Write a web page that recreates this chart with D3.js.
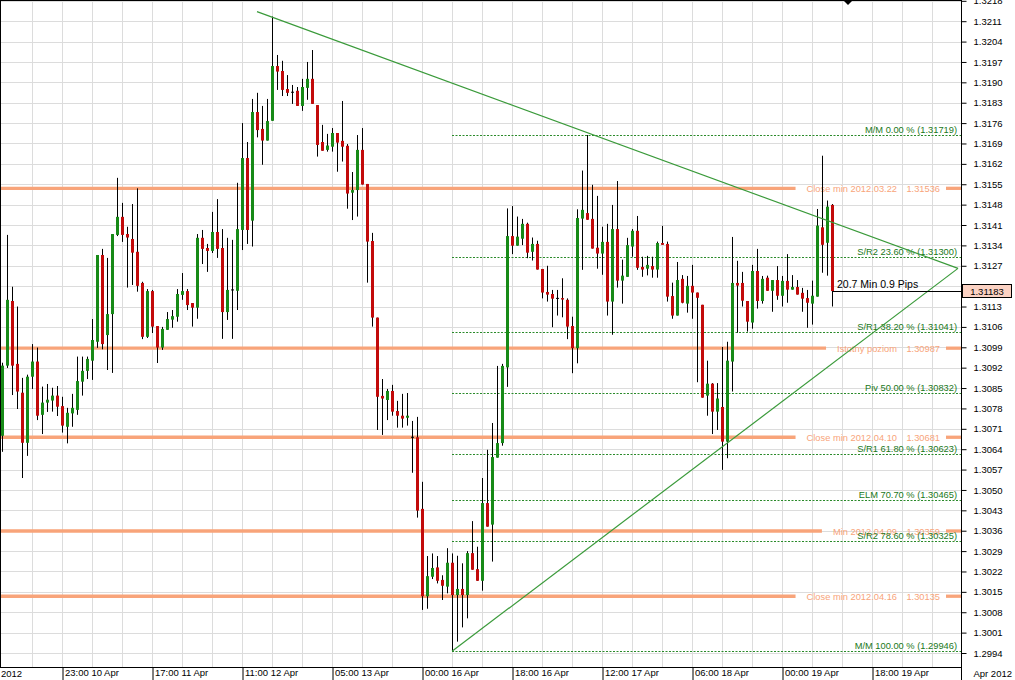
<!DOCTYPE html>
<html><head><meta charset="utf-8">
<script src="https://cdn.jsdelivr.net/npm/d3@7"></script>
<style>
body{margin:0;background:#fff;}
svg{display:block;font-family:"Liberation Sans",Arial,sans-serif;}
</style></head><body>
<svg id="c" width="1015" height="680"></svg>
<script>
// Hourly EUR/USD candles, 10 Apr 2012 11:00 onwards
const opens = [1.30686,1.30927,1.31149,1.30933,1.30834,1.30662,1.30889,1.30941,1.30758,1.30800,1.30807,1.30824,1.30788,1.30717,1.30763,1.30775,1.30872,1.30909,1.30944,1.31009,
1.31307,1.31032,1.31104,1.31376,1.31438,1.31379,1.31362,1.31318,1.31211,1.31026,1.31183,1.31063,1.30989,1.31050,1.31085,1.31095,1.31170,1.31183,1.31142,1.31126,
1.31366,1.31331,1.31321,1.31386,1.31331,1.31111,1.31187,1.31184,1.31393,1.31640,1.31425,1.31798,1.31740,1.31700,1.31768,1.31956,1.31939,1.31877,1.31866,1.31871,
1.31819,1.31881,1.31912,1.31822,1.31695,1.31668,1.31679,1.31726,1.31699,1.31682,1.31521,1.31530,1.31668,1.31551,1.31355,1.31092,1.30823,1.30809,1.30840,1.30771,
1.30755,1.30748,1.30681,1.30681,1.30435,1.30135,1.30202,1.30234,1.30191,1.30168,1.30250,1.30139,1.30160,1.30139,1.30283,1.30228,1.30188,1.30455,1.30381,1.30611,
1.30661,1.30921,1.31372,1.31339,1.31363,1.31414,1.31318,1.31345,1.31259,1.31180,1.31173,1.31158,1.31159,1.31153,1.31063,1.30987,1.31432,1.31451,1.31431,1.31332,
1.31312,1.31352,1.31147,1.31396,1.31219,1.31232,1.31336,1.31390,1.31266,1.31260,1.31269,1.31257,1.31348,1.31345,1.31166,1.31099,1.31225,1.31140,1.31201,1.31178,
1.31136,1.30824,1.30865,1.30769,1.30785,1.30666,1.30941,1.31211,1.31211,1.31149,1.31075,1.31252,1.31149,1.31229,1.31184,1.31221,1.31167,1.31218,1.31188,1.31197,
1.31177,1.31159,1.31140,1.31164,1.31402,1.31349,1.31479];
const highs = [1.30937,1.31376,1.31198,1.31130,1.30885,1.30896,1.31001,1.30989,1.30855,1.30864,1.30851,1.30857,1.30820,1.30782,1.30830,1.30958,1.30958,1.30958,1.31087,1.31307,
1.31328,1.31297,1.31379,1.31572,1.31486,1.31404,1.31482,1.31536,1.31215,1.31190,1.31187,1.31063,1.31060,1.31111,1.31118,1.31190,1.31245,1.31190,1.31142,1.31379,
1.31393,1.31345,1.31455,1.31499,1.31396,1.31366,1.31359,1.31555,1.31760,1.31695,1.31843,1.31864,1.31819,1.31843,1.32126,1.31994,1.31974,1.31925,1.31891,1.31884,
1.31912,1.31970,1.32011,1.31822,1.31754,1.31723,1.31743,1.31726,1.31836,1.31688,1.31592,1.31719,1.31743,1.31551,1.31383,1.31092,1.30881,1.30847,1.30861,1.30806,
1.30830,1.30833,1.30737,1.30751,1.30528,1.30273,1.30282,1.30273,1.30207,1.30300,1.30282,1.30274,1.30248,1.30290,1.30393,1.30305,1.30541,1.30638,1.30730,1.30926,
1.30933,1.31467,1.31475,1.31439,1.31431,1.31418,1.31367,1.31356,1.31259,1.31270,1.31187,1.31187,1.31227,1.31158,1.31095,1.31464,1.31597,1.31719,1.31548,1.31510,
1.31404,1.31414,1.31479,1.31561,1.31291,1.31366,1.31396,1.31441,1.31301,1.31304,1.31301,1.31353,1.31407,1.31353,1.31212,1.31283,1.31238,1.31235,1.31273,1.31178,
1.31136,1.30944,1.30867,1.30867,1.30991,1.31009,1.31369,1.31287,1.31249,1.31149,1.31273,1.31328,1.31235,1.31236,1.31221,1.31269,1.31235,1.31310,1.31238,1.31221,
1.31194,1.31187,1.31219,1.31465,1.31648,1.31494,1.31482];
const lows = [1.30631,1.30919,1.30826,1.30778,1.30541,1.30617,1.30847,1.30740,1.30692,1.30768,1.30769,1.30754,1.30697,1.30660,1.30717,1.30758,1.30824,1.30881,1.30878,1.30988,
1.30983,1.30912,1.30902,1.31372,1.31352,1.31195,1.31204,1.31181,1.31018,1.31022,1.31039,1.30936,1.30981,1.31050,1.31057,1.31078,1.31153,1.31118,1.31061,1.31088,
1.31276,1.31249,1.31314,1.31297,1.31019,1.31084,1.31019,1.31118,1.31324,1.31345,1.31336,1.31711,1.31617,1.31700,1.31768,1.31874,1.31853,1.31853,1.31826,1.31819,
1.31802,1.31840,1.31826,1.31645,1.31665,1.31662,1.31662,1.31593,1.31628,1.31466,1.31427,1.31439,1.31549,1.31212,1.31061,1.30706,1.30689,1.30740,1.30755,1.30714,
1.30714,1.30721,1.30559,1.30405,1.30088,1.30092,1.30194,1.30179,1.30122,1.30145,1.29946,1.29979,1.30028,1.30059,1.30226,1.30188,1.30154,1.30374,1.30254,1.30611,
1.30652,1.30854,1.31310,1.31339,1.31341,1.31296,1.31288,1.31257,1.31158,1.31147,1.31059,1.31099,1.31093,1.31018,1.30901,1.30935,1.31256,1.31428,1.31329,1.31260,
1.31239,1.31099,1.31033,1.31195,1.31140,1.31232,1.31301,1.31256,1.31232,1.31237,1.31229,1.31229,1.31342,1.31147,1.31088,1.31099,1.31141,1.31109,1.31088,1.30870,
1.30817,1.30755,1.30692,1.30706,1.30569,1.30609,1.30838,1.31040,1.31130,1.31044,1.31054,1.31123,1.31140,1.31184,1.31112,1.31153,1.31130,1.31143,1.31188,1.31171,
1.31112,1.31057,1.31068,1.31164,1.31246,1.31236,1.31130];
const closes = [1.30927,1.31153,1.30927,1.30838,1.30662,1.30889,1.30941,1.30755,1.30800,1.30810,1.30824,1.30786,1.30721,1.30765,1.30782,1.30874,1.30909,1.30950,1.31015,1.31307,
1.31001,1.31104,1.31379,1.31438,1.31376,1.31367,1.31315,1.31201,1.31026,1.31183,1.31061,1.30989,1.31053,1.31087,1.31097,1.31173,1.31183,1.31135,1.31126,1.31366,
1.31328,1.31321,1.31386,1.31328,1.31111,1.31187,1.31187,1.31396,1.31640,1.31393,1.31798,1.31736,1.31700,1.31767,1.31956,1.31937,1.31874,1.31864,1.31866,1.31819,
1.31884,1.31912,1.31826,1.31685,1.31665,1.31683,1.31726,1.31693,1.31679,1.31518,1.31530,1.31668,1.31549,1.31353,1.31092,1.30820,1.30814,1.30840,1.30769,1.30755,
1.30745,1.30755,1.30681,1.30429,1.30135,1.30204,1.30232,1.30188,1.30171,1.30250,1.30139,1.30160,1.30139,1.30283,1.30226,1.30188,1.30455,1.30374,1.30613,1.30661,
1.30926,1.31372,1.31339,1.31370,1.31414,1.31315,1.31345,1.31257,1.31178,1.31171,1.31157,1.31158,1.31154,1.31061,1.30987,1.31434,1.31462,1.31428,1.31329,1.31312,
1.31352,1.31147,1.31396,1.31219,1.31236,1.31341,1.31390,1.31263,1.31257,1.31273,1.31257,1.31348,1.31342,1.31164,1.31099,1.31221,1.31143,1.31201,1.31178,1.31160,
1.30817,1.30865,1.30769,1.30814,1.30666,1.30944,1.31211,1.31202,1.31150,1.31078,1.31252,1.31149,1.31225,1.31184,1.31221,1.31167,1.31218,1.31188,1.31197,1.31171,
1.31157,1.31143,1.31167,1.31408,1.31342,1.31473,1.31183];

// Support / resistance levels (orange)
const srNames  = ["Close min 2012.03.22","Istotny poziom","Close min 2012.04.10","Min 2012.04.09","Close min 2012.04.16"];
const srValues = [1.31536,1.30987,1.30681,1.30359,1.30135];

// Fibonacci levels (green dotted), from the 16 Apr low candle
const fibNames  = ["M/M 0.00 %","S/R2 23.60 %","S/R1 38.20 %","Piv 50.00 %","S/R1 61.80 %","ELM 70.70 %","S/R2 78.60 %","M/M 100.00 %"];
const fibValues = [1.31719,1.31300,1.31041,1.30832,1.30623,1.30465,1.30325,1.29946];
const fibStartIndex = 90;

// Trend lines: [candle index, price]
const trendDown = [[51,1.32143],[191.2,1.31261]];
const trendUp   = [[90,1.29946],[191.2,1.31261]];

// Axis ticks
const yTicks = [1.2994,1.3001,1.3008,1.3015,1.3022,1.3029,1.3036,1.3043,1.3050,1.3057,1.3064,1.3071,1.3078,1.3085,1.3092,1.3099,
1.3106,1.3113,1.3120,1.3127,1.3134,1.3141,1.3148,1.3155,1.3162,1.3169,1.3176,1.3183,1.3190,1.3197,1.3204,1.3211,1.3218];
const xTickIndex  = [12,30,48,66,84,102,120,138,156,174];
const xTickLabels = ["23:00 10 Apr","17:00 11 Apr","11:00 12 Apr","05:00 13 Apr","00:00 16 Apr","18:00 16 Apr","12:00 17 Apr","06:00 18 Apr","00:00 19 Apr","18:00 19 Apr"];
const lastPrice = 1.31183;
const infoText = "20.7 Min 0.9 Pips";

const svg = d3.select("#c");
const plotR = 961, plotB = 667;
const x = d3.scaleLinear().domain([0,166]).range([2,832]);
const y = d3.scaleLinear().domain([1.2994,1.3211]).range([653,21.2]);
const candles = opens.map((o,i)=>({i,o,h:highs[i],l:lows[i],c:closes[i]}));

// grid
const g = svg.append("g");
g.selectAll("line.hg").data(yTicks).join("line")
  .attr("x1",0).attr("x2",plotR).attr("y1",d=>Math.round(y(d))+0.5).attr("y2",d=>Math.round(y(d))+0.5)
  .attr("stroke","#dcdcdc").attr("stroke-width",1);
g.selectAll("line.vg").data(d3.range(6,187,6)).join("line")
  .attr("x1",d=>Math.round(x(d))+0.5).attr("x2",d=>Math.round(x(d))+0.5).attr("y1",0).attr("y2",plotB)
  .attr("stroke","#dcdcdc").attr("stroke-width",1);

// orange levels
const orange = "#f8a47a";
const sr = svg.append("g");
srNames.forEach((name,k)=>{
  const yy = y(srValues[k]);
  sr.append("text").attr("x",940).attr("y",yy+3.5).attr("text-anchor","end")
    .attr("font-size",9.3).attr("fill",orange).text(srValues[k].toFixed(5));
  const nt = sr.append("text").attr("x",897).attr("y",yy+3.5).attr("text-anchor","end")
    .attr("font-size",9.3).attr("fill",orange).text(name);
  const start = 897 - nt.node().getComputedTextLength();
  sr.insert("line","text").attr("x1",0).attr("x2",start-11).attr("y1",yy).attr("y2",yy)
    .attr("stroke",orange).attr("stroke-width",3.3);
  sr.insert("line","text").attr("x1",946).attr("x2",plotR).attr("y1",yy).attr("y2",yy)
    .attr("stroke",orange).attr("stroke-width",3.3);
});

// fib levels
const fg = svg.append("g");
fibNames.forEach((name,k)=>{
  const yy = Math.round(y(fibValues[k]))+0.5;
  fg.append("line").attr("x1",x(fibStartIndex)).attr("x2",plotR).attr("y1",yy).attr("y2",yy)
    .attr("stroke","#2a8a2a").attr("stroke-width",1).attr("stroke-dasharray","2,1.5");
  fg.append("text").attr("x",957).attr("y",yy-2.5).attr("text-anchor","end")
    .attr("font-size",9.3).attr("fill","#1a781a").text(name+" ("+fibValues[k].toFixed(5)+")");
});

// candles
const cg = svg.append("g");
cg.selectAll("line.w").data(candles).join("line")
  .attr("x1",d=>x(d.i)+0.5).attr("x2",d=>x(d.i)+0.5)
  .attr("y1",d=>y(d.h)).attr("y2",d=>y(d.l)).attr("stroke","#000").attr("stroke-width",1);
cg.selectAll("rect.b").data(candles.filter(d=>d.o!==d.c)).join("rect")
  .attr("x",d=>x(d.i)-1).attr("width",3)
  .attr("y",d=>y(Math.max(d.o,d.c))).attr("height",d=>Math.max(1,y(Math.min(d.o,d.c))-y(Math.max(d.o,d.c))))
  .attr("fill",d=>d.c>d.o?"#178a17":"#c20a0a");
cg.selectAll("line.dj").data(candles.filter(d=>d.o===d.c)).join("line")
  .attr("x1",d=>x(d.i)-1).attr("x2",d=>x(d.i)+2).attr("y1",d=>y(d.o)).attr("y2",d=>y(d.o))
  .attr("stroke","#000").attr("stroke-width",1);

// trend lines
const line = d3.line().x(d=>x(d[0])).y(d=>y(d[1]));
[trendDown,trendUp].forEach(t=>{
  svg.append("path").attr("d",line(t)).attr("fill","none").attr("stroke","#3a9a3a").attr("stroke-width",1.2);
});

// current price line
const yl = y(lastPrice);
svg.append("line").attr("x1",x(166)).attr("x2",plotR).attr("y1",Math.round(yl)+0.5).attr("y2",Math.round(yl)+0.5)
  .attr("stroke","#000").attr("stroke-width",1);
svg.append("text").attr("x",837).attr("y",yl-3).attr("font-size",10.5).attr("fill","#000").text(infoText);

// frame
svg.append("line").attr("x1",0).attr("x2",plotR).attr("y1",0.5).attr("y2",0.5).attr("stroke","#000");
svg.append("line").attr("x1",0.5).attr("x2",0.5).attr("y1",0).attr("y2",plotB).attr("stroke","#000");
svg.append("path").attr("d","M843,0L853,0L848,5Z").attr("fill","#000");

// y axis
const yAxis = d3.axisRight(y).tickValues(yTicks).tickSize(5).tickFormat(d3.format(".4f"));
const ya = svg.append("g").attr("transform",`translate(${plotR+0.5},0)`).call(yAxis);
ya.select(".domain").attr("d",`M0,0V680`).attr("stroke","#000");
ya.selectAll(".tick line").attr("stroke","#000");
ya.selectAll(".tick text").attr("x",12).attr("font-size",9.5).attr("font-family","Liberation Sans, Arial, sans-serif").attr("fill","#000");

// x axis
const xAxis = d3.axisBottom(x).tickValues(xTickIndex).tickSize(13).tickFormat((d,i)=>xTickLabels[i]);
const xa = svg.append("g").attr("transform",`translate(0.5,${plotB+0.5})`).call(xAxis);
xa.select(".domain").attr("d",`M-0.5,0H${plotR}`).attr("stroke","#000");
xa.selectAll(".tick line").attr("stroke","#000");
xa.selectAll(".tick text").attr("text-anchor","start").attr("x",2).attr("y",2).attr("dy","0.71em")
  .attr("font-size",9.5).attr("font-family","Liberation Sans, Arial, sans-serif").attr("fill","#000");
svg.append("text").attr("x",1).attr("y",677).attr("font-size",9.5).attr("fill","#000").text("2012");
svg.append("text").attr("x",1012).attr("y",677).attr("text-anchor","end").attr("font-size",9.5).attr("fill","#000").text("Apr 2012");

// price box
svg.append("rect").attr("x",962.5).attr("y",Math.round(yl)-6.5).attr("width",49).attr("height",13)
  .attr("fill","#fbd2c3").attr("stroke","#000");
svg.append("text").attr("x",987).attr("y",yl+3.5).attr("text-anchor","middle").attr("font-size",9.5)
  .attr("fill","#000").text(lastPrice.toFixed(5));
</script></body></html>
